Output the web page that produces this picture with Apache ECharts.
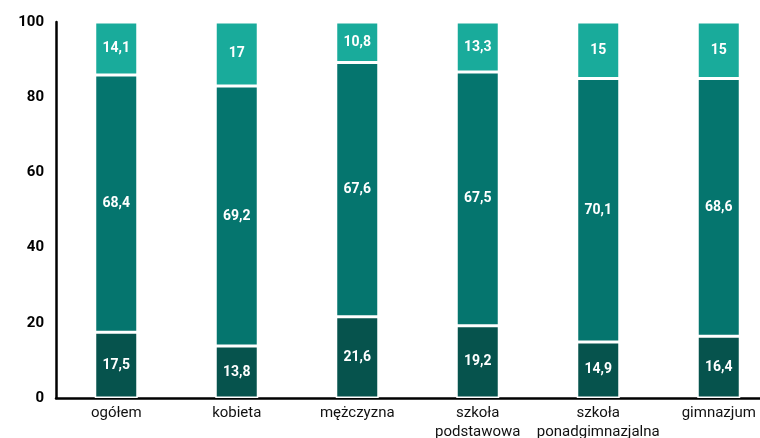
<!DOCTYPE html>
<html>
<head>
<meta charset="utf-8">
<script src="https://cdn.jsdelivr.net/npm/echarts@6/dist/echarts.min.js"></script>
<style>
    html, body { margin: 0; padding: 0; background: #fff; }
    #chart { width: 760px; height: 438px; }
</style>
</head>
<body>
<div id="chart"></div>
<script>
// kategorie i wartości (%)
var categories = ['ogółem', 'kobieta', 'mężczyzna', 'szkoła\npodstawowa', 'szkoła\nponadgimnazjalna', 'gimnazjum'];
var bottomValues = [17.5, 13.8, 21.6, 19.2, 14.9, 16.4];
var middleValues = [68.4, 69.2, 67.6, 67.5, 70.1, 68.6];
var topValues = [14.1, 17, 10.8, 13.3, 15, 15];
var yTicks = [0, 20, 40, 60, 80, 100];

var chart = echarts.init(document.getElementById('chart'));

function seg(name, data, color) {
    return {
        name: name,
        type: 'bar',
        stack: 'all',
        data: data,
        barWidth: 43,
        itemStyle: { color: color, borderColor: '#fff', borderWidth: 1.5 },
        label: {
            show: true,
            color: '#fff',
            fontFamily: 'Roboto',
            fontWeight: 'bold',
            fontSize: 14,
            formatter: function (p) { return String(p.value).replace('.', ','); }
        }
    };
}

chart.setOption({
    animation: false,
    grid: { left: 56, right: -19, top: 22, bottom: 40, containLabel: false, outerBoundsMode: 'none' },
    xAxis: {
        type: 'category',
        data: categories,
        axisLine: { lineStyle: { color: '#000', width: 2.5 } },
        axisTick: { show: false },
        axisLabel: { color: '#111', fontFamily: 'Roboto', fontSize: 15, lineHeight: 19, margin: 6, interval: 0 }
    },
    yAxis: {
        type: 'value',
        min: yTicks[0],
        max: yTicks[yTicks.length - 1],
        interval: 20,
        axisLine: { show: true, lineStyle: { color: '#000', width: 2.5 } },
        axisTick: { show: false },
        splitLine: { show: false },
        axisLabel: { color: '#000', fontFamily: 'Roboto', fontWeight: 'bold', fontSize: 15, margin: 12 }
    },
    series: [
        seg('niski', bottomValues, '#06534d'),
        seg('średni', middleValues, '#05756e'),
        seg('wysoki', topValues, '#19ab9b')
    ]
});
</script>
</body>
</html>
